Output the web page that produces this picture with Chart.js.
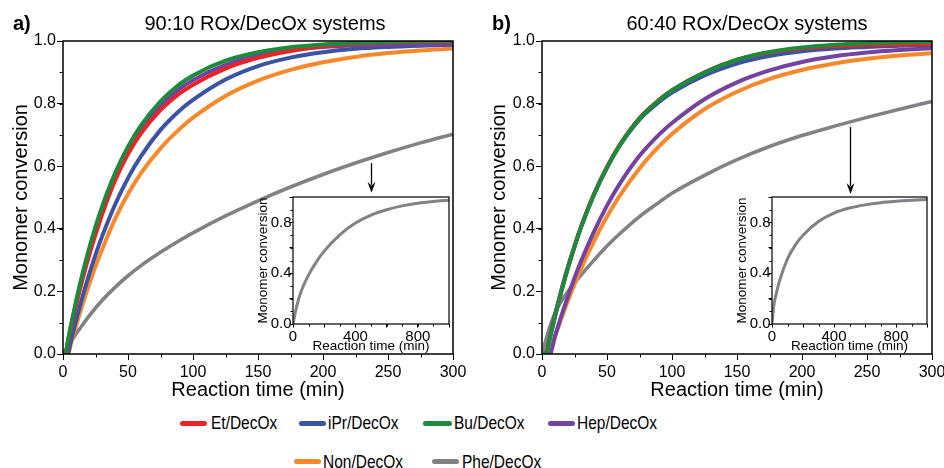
<!DOCTYPE html>
<html><head><meta charset="utf-8">
<script src="https://cdn.jsdelivr.net/npm/chart.js@4.4.1/dist/chart.umd.min.js"></script>
<style>
body{margin:0;background:#fff;width:944px;height:468px;overflow:hidden;position:relative;font-family:'Liberation Sans',Arial,sans-serif;color:#000;}
canvas{position:absolute;}
.t{position:absolute;font-size:20px;line-height:20px;white-space:nowrap;}
.leg{position:absolute;font-family:'Liberation Sans',Arial,sans-serif;font-size:19px;line-height:19px;white-space:nowrap;transform:scaleX(0.815);transform-origin:0 50%;}
.sw{position:absolute;height:5px;border-radius:3px;}
</style></head>
<body>
<canvas id="cA" width="470" height="405" style="left:0;top:0"></canvas>
<canvas id="cB" width="474" height="405" style="left:470px;top:0"></canvas>
<canvas id="iA" width="205" height="170" style="left:250px;top:190px"></canvas>
<canvas id="iB" width="205" height="170" style="left:729px;top:190px"></canvas>
<div class="t" style="left:13px;top:13px;font-weight:bold">a)</div>
<div class="t" style="left:265px;top:13px;transform:translateX(-50%)">90:10 ROx/DecOx systems</div>
<div class="t" style="left:492px;top:13px;font-weight:bold">b)</div>
<div class="t" style="left:747px;top:13px;transform:translateX(-50%)">60:40 ROx/DecOx systems</div>
<div id="legend"></div>
<script>
// ---- data ----
const T = [0,2,4,6,10,15,20,25,30,40,50,60,75,90,100,125,150,175,200,225,250,275,300];
// panel a) 90:10
const aEt  = [0,0,0.041,0.08,0.154,0.238,0.313,0.381,0.445,0.554,0.639,0.705,0.779,0.833,0.8605,0.912,0.946,0.968,0.983,0.991,0.995,0.998,0.999];
const aiPr = [0,0,0.005,0.04,0.107,0.183,0.253,0.317,0.375,0.477,0.562,0.632,0.716,0.779,0.812,0.877,0.92,0.947,0.964,0.975,0.981,0.985,0.988];
const aBu  = [0,0.005,0.048,0.09,0.168,0.257,0.336,0.407,0.47,0.577,0.662,0.73,0.807,0.863,0.89,0.937,0.964,0.98,0.989,0.994,0.997,0.999,1.0];
const aHep = [0,0.002,0.044,0.085,0.161,0.248,0.325,0.394,0.458,0.566,0.651,0.718,0.793,0.848,0.875,0.924,0.955,0.972,0.981,0.986,0.988,0.989,0.99];
const aNon = [0,0,0,0.031,0.09,0.158,0.221,0.28,0.333,0.431,0.511,0.578,0.657,0.72,0.755,0.8245,0.8734,0.9078,0.9321,0.9492,0.9613,0.9697,0.9757];
const aPhe = [0,0.013,0.026,0.039,0.064,0.093,0.121,0.147,0.171,0.213,0.25,0.2825,0.325,0.3635,0.387,0.441,0.4895,0.5335,0.5735,0.61,0.6437,0.6745,0.7025];
// panel b) 60:40
const bEt  = [0,0,0.012,0.05,0.121,0.203,0.277,0.344,0.406,0.511,0.598,0.67,0.754,0.812,0.843,0.9,0.94,0.963,0.976,0.983,0.987,0.989,0.99];
const biPr = [0,0,0.014,0.053,0.125,0.206,0.279,0.345,0.406,0.51,0.596,0.667,0.749,0.805,0.835,0.89,0.928,0.952,0.967,0.976,0.981,0.985,0.987];
const bBu  = [0,0,0.01,0.048,0.119,0.201,0.275,0.342,0.404,0.509,0.596,0.668,0.752,0.811,0.842,0.899,0.94,0.965,0.979,0.988,0.993,0.996,0.997];
const bHep = [0,0,0,0,0.057,0.1235,0.185,0.243,0.296,0.391,0.474,0.545,0.633,0.701,0.738,0.814,0.868,0.906,0.933,0.951,0.963,0.971,0.977];
const bNon = [0,0,0,0.004,0.055,0.115,0.171,0.223,0.272,0.361,0.439,0.507,0.593,0.663,0.703,0.782,0.838,0.879,0.9075,0.928,0.943,0.954,0.961];
const bPhe = [0,0.03,0.059,0.086,0.131,0.17,0.2,0.227,0.252,0.3,0.345,0.385,0.439,0.4845,0.5135,0.571,0.621,0.663,0.698,0.728,0.756,0.782,0.807];
// insets (Phe/DecOx, long time)
const TI = [0,10,25,50,100,150,200,300,400,500,600,700,800,900,1000];
const aPheLong = [0,0.064,0.147,0.25,0.387,0.4895,0.5735,0.7025,0.795,0.858,0.90,0.93,0.951,0.965,0.975];
const bPheLong = [0,0.131,0.227,0.345,0.5135,0.621,0.698,0.807,0.874,0.913,0.938,0.955,0.966,0.974,0.98];
// ticks
const xTicksMain = [0,50,100,150,200,250,300];
const yTicksMain = [0,0.2,0.4,0.6,0.8,1.0];
const xLabelsInset = [0,400,800];
const yLabelsInset = [0,0.4,0.8];
const names  = ['Et/DecOx','iPr/DecOx','Bu/DecOx','Hep/DecOx','Non/DecOx','Phe/DecOx'];
const colors = ['#ec2227','#3a53a4','#1c8c3c','#7442a0','#f7892b','#808285'];

const FONT = "'Liberation Sans', Arial, sans-serif";

function ds(times, vals, idx, w) {
  return {label: names[idx], data: times.map((t,i)=>({x:t,y:vals[i]})), borderColor: colors[idx],
    backgroundColor: colors[idx], borderWidth: w, pointRadius: 0, fill: false,
    cubicInterpolationMode: 'monotone'};
}

const framePlugin = {
  id: 'frame',
  afterDraw(chart, args, opts) {
    const ctx = chart.ctx, a = chart.chartArea;
    const xs = chart.scales.x, ys = chart.scales.y;
    ctx.save();
    ctx.strokeStyle = '#000';
    ctx.lineWidth = opts.lw || 1.5;
    ctx.strokeRect(a.left, a.top, a.right - a.left, a.bottom - a.top);
    ctx.lineWidth = 1;
    if (opts.xMinor) {
      for (let v = xs.min; v <= xs.max + 1e-9; v += opts.xMinor) {
        const p = Math.round(xs.getPixelForValue(v)) + 0.5;
        ctx.beginPath(); ctx.moveTo(p, a.bottom); ctx.lineTo(p, a.bottom + opts.minorLen); ctx.stroke();
      }
    }
    if (opts.yMinor) {
      for (let v = ys.min; v <= ys.max + 1e-9; v += opts.yMinor) {
        const p = Math.round(ys.getPixelForValue(v)) + 0.5;
        ctx.beginPath(); ctx.moveTo(a.left, p); ctx.lineTo(a.left - opts.minorLen, p); ctx.stroke();
      }
    }
    if (opts.arrow) {
      const ar = opts.arrow;
      const x = Math.round(xs.getPixelForValue(ar.x)) + 0.5;
      const y1 = ys.getPixelForValue(ar.y1), y2 = ys.getPixelForValue(ar.y2);
      ctx.lineWidth = 1.3;
      ctx.beginPath(); ctx.moveTo(x, y1); ctx.lineTo(x, y2 - 8); ctx.stroke();
      ctx.fillStyle = '#000';
      ctx.beginPath(); ctx.moveTo(x - 4, y2 - 11); ctx.lineTo(x, y2 - 7); ctx.lineTo(x + 4, y2 - 11);
      ctx.lineTo(x, y2); ctx.closePath(); ctx.fill();
    }
    ctx.restore();
  }
};

function mainChart(id, sets, yW, xH, padRight, yTitlePad, arrow) {
  return new Chart(document.getElementById(id), {
    type: 'line',
    data: {datasets: sets},
    plugins: [framePlugin],
    options: {
      responsive: false, animation: false, devicePixelRatio: 1,
      layout: {padding: {top: 41, right: padRight, left: 0, bottom: 0}},
      plugins: {legend: {display: false}, tooltip: {enabled: false},
        frame: {xMinor: 25, yMinor: 0.1, minorLen: 3.5, lw: 1.5, arrow: arrow}},
      scales: {
        x: {type: 'linear', min: 0, max: 300,
          afterFit: s => { s.height = xH; s.paddingLeft = 0; s.paddingRight = 0; },
          afterBuildTicks: s => { s.ticks = xTicksMain.map(v => ({value: v})); },
          ticks: {autoSkip: false, maxRotation: 0, color: '#000', padding: 3,
            font: {family: FONT, size: 16}, callback: v => String(v)},
          grid: {drawOnChartArea: false, drawTicks: true, tickLength: 6, color: '#000', lineWidth: 1},
          border: {display: false},
          title: {display: true, text: 'Reaction time (min)', color: '#000',
            font: {family: FONT, size: 20}, padding: {top: 0, bottom: 3}}
        },
        y: {type: 'linear', min: 0, max: 1,
          afterFit: s => { s.width = yW; s.paddingTop = 0; s.paddingBottom = 0; },
          afterBuildTicks: s => { s.ticks = yTicksMain.map(v => ({value: v})); },
          ticks: {autoSkip: false, color: '#000', padding: 1,
            font: {family: FONT, size: 16}, callback: v => v.toFixed(1)},
          grid: {drawOnChartArea: false, drawTicks: true, tickLength: 6, color: '#000', lineWidth: 1},
          border: {display: false},
          title: {display: true, text: 'Monomer conversion', color: '#000',
            font: {family: FONT, size: 20}, padding: {top: yTitlePad, bottom: 0}}
        }
      }
    }
  });
}

function insetChart(id, vals, padRight) {
  return new Chart(document.getElementById(id), {
    type: 'line',
    data: {datasets: [ds(TI, vals, 5, 3)]},
    plugins: [framePlugin],
    options: {
      responsive: false, animation: false, devicePixelRatio: 1,
      layout: {padding: {top: 7, right: padRight, left: 0, bottom: 0}},
      plugins: {legend: {display: false}, tooltip: {enabled: false},
        frame: {xMinor: 100, yMinor: 0.1, minorLen: 2.5, lw: 1.2}},
      scales: {
        x: {type: 'linear', min: 0, max: 1000,
          afterFit: s => { s.height = 36; s.paddingLeft = 0; s.paddingRight = 0; },
          afterBuildTicks: s => { s.ticks = [0,200,400,600,800,1000].map(v => ({value: v})); },
          ticks: {autoSkip: false, maxRotation: 0, color: '#000', padding: 0,
            font: {family: FONT, size: 15},
            callback: v => xLabelsInset.includes(v) ? String(v) : ''},
          grid: {drawOnChartArea: false, drawTicks: true, tickLength: 3.5, color: '#000', lineWidth: 1},
          border: {display: false},
          title: {display: true, text: 'Reaction time (min)', color: '#000',
            font: {family: FONT, size: 13.5}, padding: {top: 0, bottom: 6}}
        },
        y: {type: 'linear', min: 0, max: 1,
          afterFit: s => { s.width = 43; s.paddingTop = 0; s.paddingBottom = 0; },
          afterBuildTicks: s => { s.ticks = [0,0.2,0.4,0.6,0.8,1.0].map(v => ({value: v})); },
          ticks: {autoSkip: false, color: '#000', padding: -2,
            font: {family: FONT, size: 15},
            callback: v => yLabelsInset.some(l => Math.abs(l - v) < 1e-6) ? v.toFixed(1) : ''},
          grid: {drawOnChartArea: false, drawTicks: true, tickLength: 3.5, color: '#000', lineWidth: 1},
          border: {display: false},
          title: {display: true, text: 'Monomer conversion', color: '#000',
            font: {family: FONT, size: 13.5}, padding: {top: 5, bottom: 0}}
        }
      }
    }
  });
}

// draw order: first dataset on top
mainChart('cA', [ds(T,aBu,2,4), ds(T,aEt,0,4), ds(T,aHep,3,4), ds(T,aiPr,1,4), ds(T,aNon,4,4), ds(T,aPhe,5,3.6)],
  63, 51, 17, 9, {x: 237, y1: 0.61, y2: 0.515});
mainChart('cB', [ds(T,bBu,2,4), ds(T,bEt,0,4), ds(T,biPr,1,4), ds(T,bHep,3,4), ds(T,bNon,4,4), ds(T,bPhe,5,3.6)],
  72, 51, 12, 17.5, {x: 237, y1: 0.725, y2: 0.511});
insetChart('iA', aPheLong, 6);
insetChart('iB', bPheLong, 7);

// legend (HTML)
const legItems = [
  {i:0, sx:180, sw:27, tx:211, row:0}, {i:1, sx:299, sw:27, tx:328, row:0},
  {i:2, sx:423, sw:29, tx:454, row:0}, {i:3, sx:548, sw:27, tx:577, row:0},
  {i:4, sx:294, sw:27, tx:323, row:1}, {i:5, sx:432, sw:27, tx:462, row:1}
];
const rowSw = [420.5, 459], rowTx = [412.7, 451.7];
const L = document.getElementById('legend');
legItems.forEach(it => {
  const s = document.createElement('div'); s.className = 'sw';
  s.style.left = it.sx + 'px'; s.style.width = it.sw + 'px'; s.style.top = rowSw[it.row] + 'px';
  s.style.background = colors[it.i]; L.appendChild(s);
  const t = document.createElement('div'); t.className = 'leg';
  t.style.left = it.tx + 'px'; t.style.top = rowTx[it.row] + 'px'; t.textContent = names[it.i];
  L.appendChild(t);
});
</script>
</body></html>
